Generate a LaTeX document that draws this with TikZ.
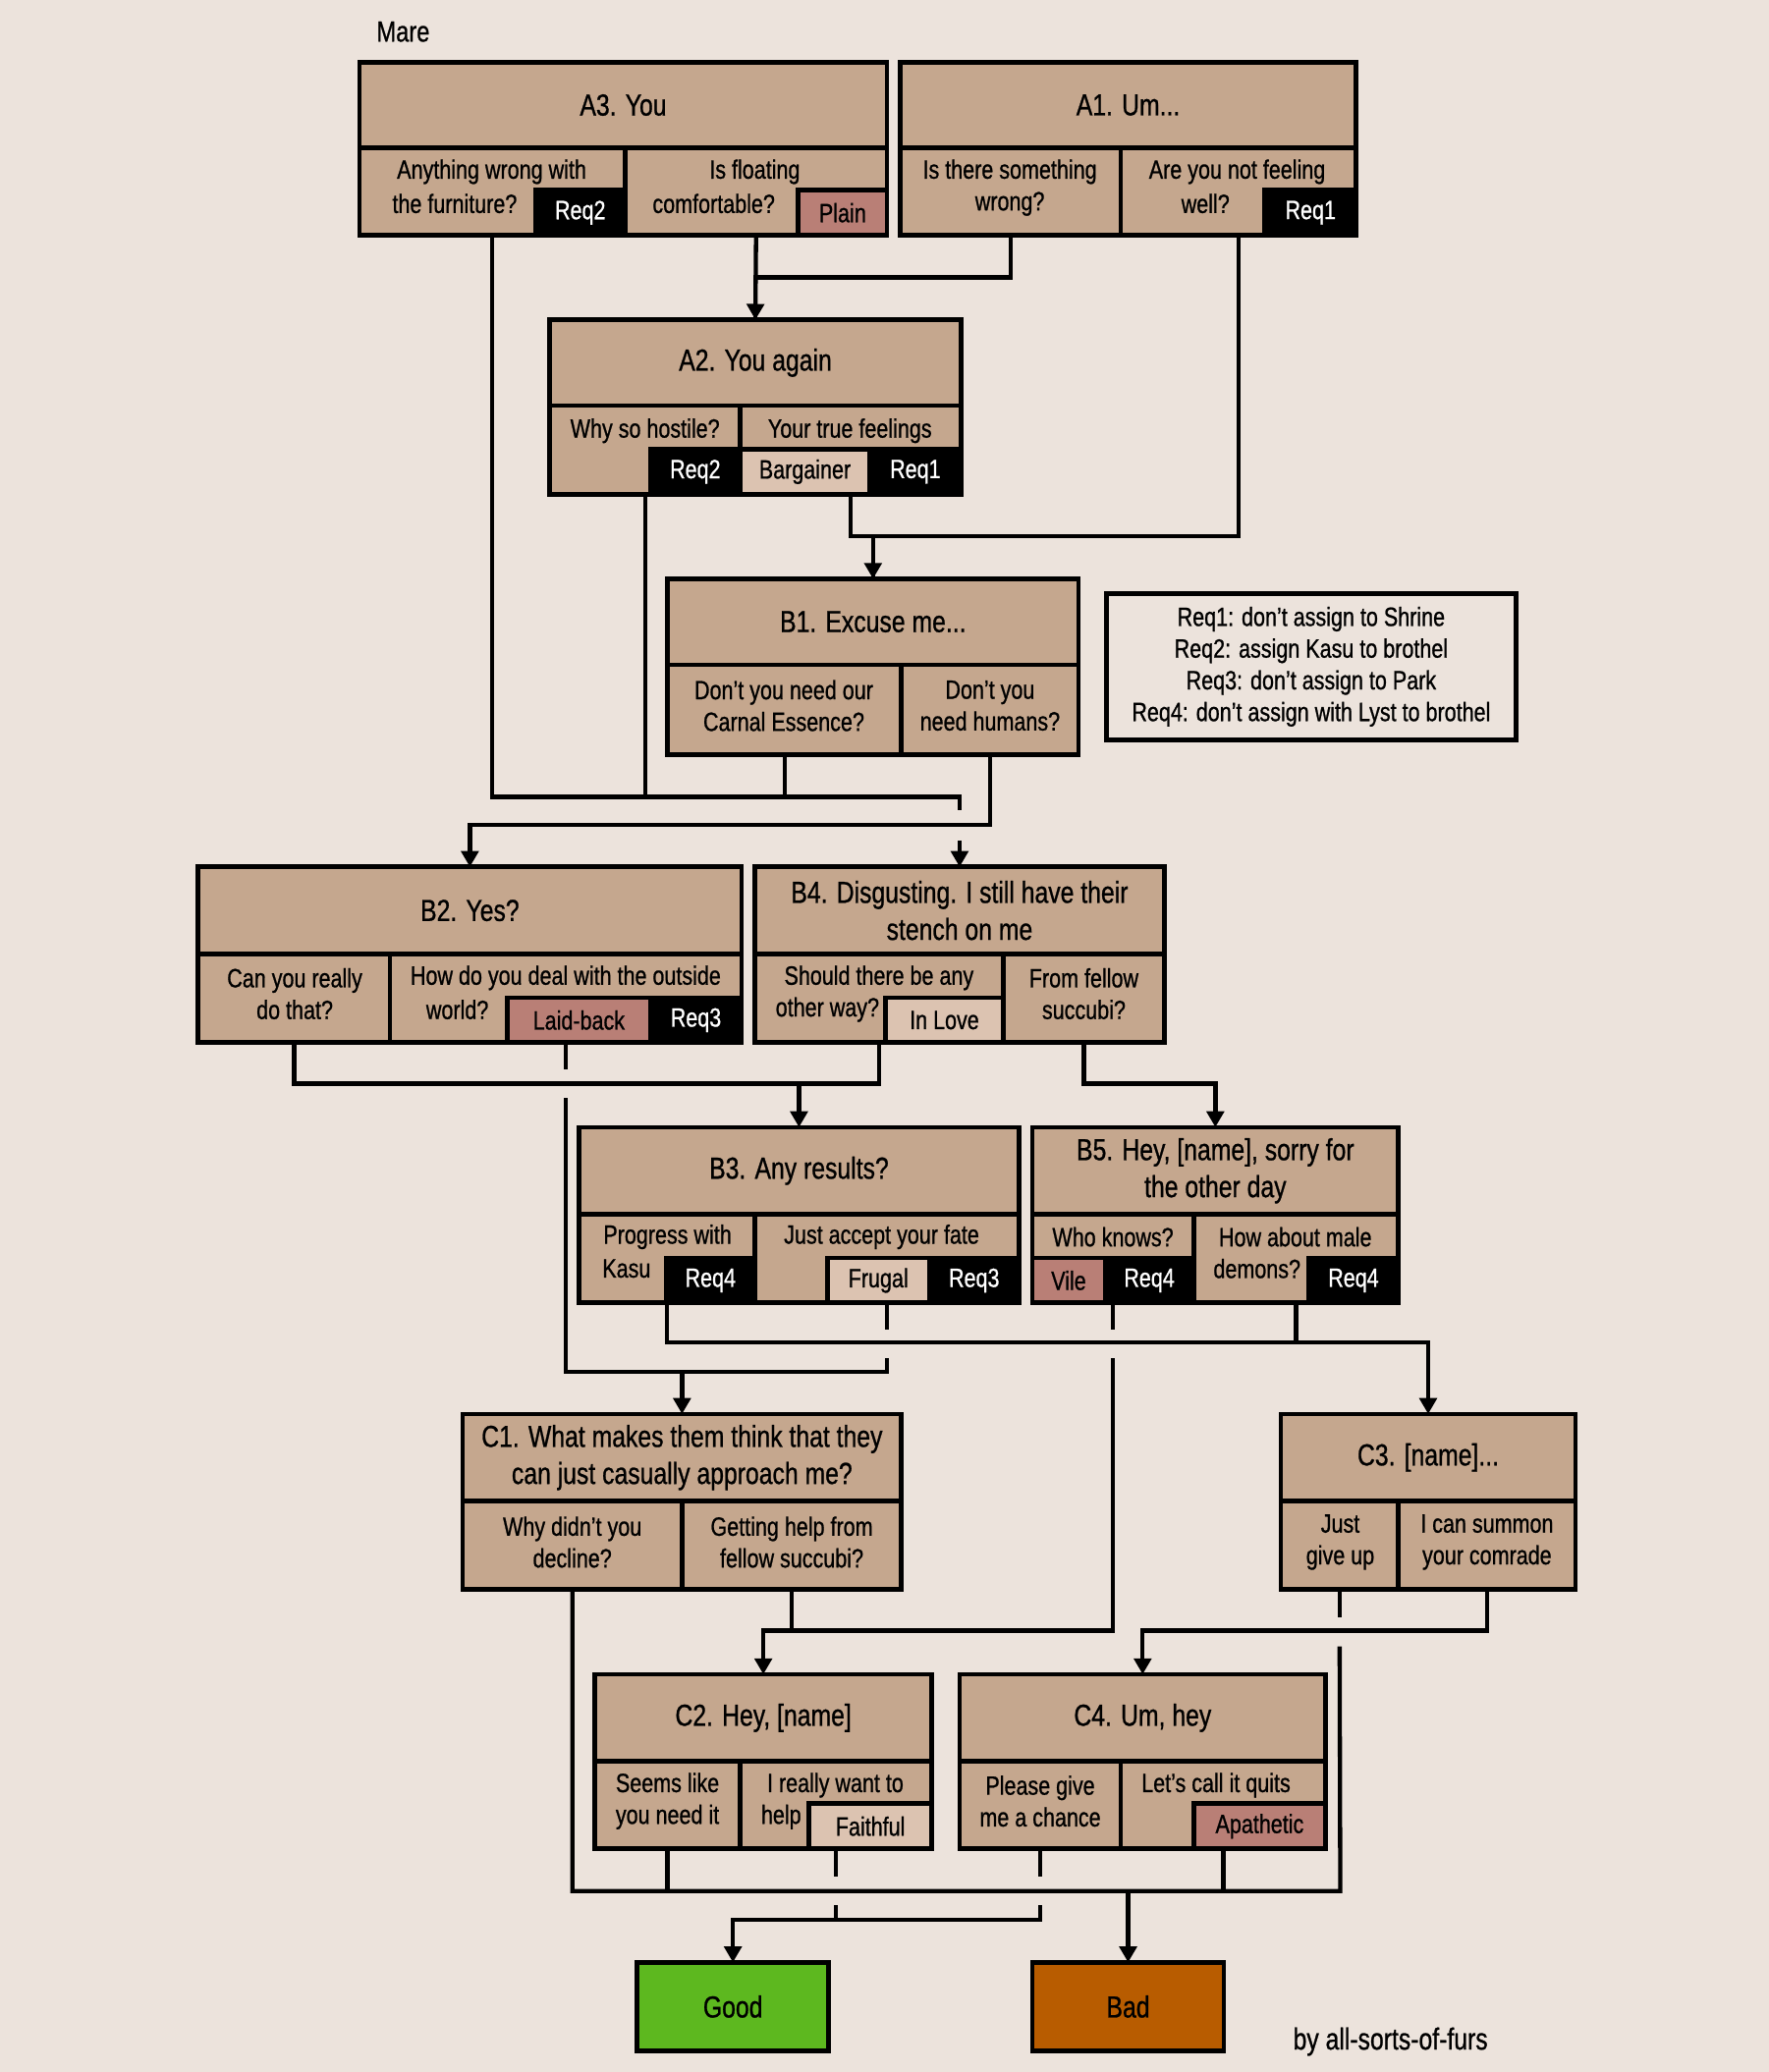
\documentclass[tikz,border=0pt]{standalone}
\usepackage{fontspec}
\setmainfont{Liberation Sans}[FakeStretch=0.8, FakeBold=0.8]
\usetikzlibrary{arrows.meta}
\definecolor{bgc}{HTML}{ECE3DC}
\definecolor{boxc}{HTML}{C5A78E}
\definecolor{tagred}{HTML}{B97F76}
\definecolor{tagpale}{HTML}{DCC3B1}
\definecolor{goodc}{HTML}{5DB81F}
\definecolor{badc}{HTML}{B85C00}

\begin{document}
\begin{tikzpicture}[x=1pt, y=-1pt, >={Triangle[length=12pt,width=13pt]},
    every node/.style={font=\fontsize{20}{24}\selectfont, inner sep=0pt, outer sep=0pt},
    ttl/.style={draw, fill=boxc, line width=3.5pt, anchor=north west, align=center, font=\fontsize{23}{28}\selectfont},
    cell/.style={draw, fill=boxc, line width=3.5pt, anchor=north west},
    txt/.style={align=center},
    reqtag/.style={draw, fill=black, text=white, line width=3.5pt, anchor=south east, minimum height=34pt},
    redtag/.style={draw, fill=tagred, line width=3.5pt, anchor=south east, minimum height=34pt},
    paletag/.style={draw, fill=tagpale, line width=3.5pt, anchor=south east, minimum height=34pt},
    wire/.style={line width=3.2pt}]
    \fill[bgc] (0,0) rectangle (1338,1568);

    \node[font=\fontsize{22}{26}\selectfont] (mare) at (305,24) {Mare};

    % A3
    \node[ttl, minimum width=399pt, minimum height=65pt] (a3) at (272,47) {A3. You};
    \node[cell, minimum width=201pt, minimum height=66pt] (a3x) at (272,112) {};
    \node[cell, minimum width=198pt, minimum height=66pt] (a3y) at (473,112) {};
    \node[reqtag, minimum width=68pt] (a3xr) at (a3x.south east) {Req2};
    \node[redtag, minimum width=67pt] (a3yt) at (a3y.south east) {Plain};
    \node (a3xa) at (372,130) {Anything wrong with};
    \node (a3xb) at (344,154) {the furniture?};
    \node (a3ya) at (571,130) {Is floating};
    \node (a3yb) at (540,154) {comfortable?};

    % A1
    \node[ttl, minimum width=345pt, minimum height=65pt] (a1) at (681,47) {A1. Um...};
    \node[cell, minimum width=167pt, minimum height=66pt] (a1x) at (681,112) {};
    \node[cell, minimum width=178pt, minimum height=66pt] (a1y) at (848,112) {};
    \node[reqtag, minimum width=69pt] (a1yr) at (a1y.south east) {Req1};
    \node[txt] (a1xa) at (764,142) {Is there something\\wrong?};
    \node (a1ya) at (936,130) {Are you not feeling};
    \node (a1yb) at (912,154) {well?};

    % A2
    \node[ttl, minimum width=311pt, minimum height=65pt] (a2) at (416,242) {A2. You again};
    \node[cell, minimum width=144pt, minimum height=67pt] (a2x) at (416,307) {};
    \node[cell, minimum width=167pt, minimum height=67pt] (a2y) at (560,307) {};
    \node[reqtag, minimum width=68pt] (a2xr) at (a2x.south east) {Req2};
    \node[reqtag, minimum width=69pt] (a2yr) at (a2y.south east) {Req1};
    \node[paletag, minimum width=98pt] (a2yt) at (a2yr.south west) {Bargainer};
    \node (a2xa) at (488,326) {Why so hostile?};
    \node (a2ya) at (643,326) {Your true feelings};

    % B1
    \node[ttl, minimum width=311pt, minimum height=65pt] (b1) at (505,438) {B1. Excuse me...};
    \node[cell, minimum width=177pt, minimum height=68pt] (b1x) at (505,503) {};
    \node[cell, minimum width=134pt, minimum height=68pt] (b1y) at (682,503) {};
    \node[txt] (b1xa) at (593,534) {Don't you need our\\Carnal Essence?};
    \node[txt] (b1ya) at (749,534) {Don't you\\need humans?};

    % requirements
    \node[draw, line width=3.5pt, minimum width=310pt, minimum height=111pt, anchor=north west, align=center] (reqs) at (837,449)
        {Req1: don't assign to Shrine\\Req2: assign Kasu to brothel\\Req3: don't assign to Park\\Req4: don't assign with Lyst to brothel};

    % B2
    \node[ttl, minimum width=411pt, minimum height=66pt] (b2) at (150,656) {B2. Yes?};
    \node[cell, minimum width=145pt, minimum height=67pt] (b2x) at (150,722) {};
    \node[cell, minimum width=266pt, minimum height=67pt] (b2y) at (295,722) {};
    \node[reqtag, minimum width=69pt] (b2yr) at (b2y.south east) {Req3};
    \node[redtag, minimum width=108pt] (b2yt) at (b2yr.south west) {Laid-back};
    \node[txt] (b2xa) at (223,752) {Can you really\\do that?};
    \node (b2ya) at (428,740) {How do you deal with the outside};
    \node (b2yb) at (346,764) {world?};

    % B4
    \node[ttl, minimum width=310pt, minimum height=66pt] (b4) at (571,656) {B4. Disgusting. I still have their\\stench on me};
    \node[cell, minimum width=188pt, minimum height=67pt] (b4x) at (571,722) {};
    \node[cell, minimum width=122pt, minimum height=67pt] (b4y) at (759,722) {};
    \node[paletag, minimum width=89pt] (b4xt) at (b4x.south east) {In Love};
    \node (b4xa) at (665,740) {Should there be any};
    \node (b4xb) at (626,764) {other way?};
    \node[txt] (b4ya) at (820,752) {From fellow\\succubi?};

    % B3
    \node[ttl, minimum width=333pt, minimum height=66pt] (b3) at (438,853) {B3. Any results?};
    \node[cell, minimum width=133pt, minimum height=67pt] (b3x) at (438,919) {};
    \node[cell, minimum width=200pt, minimum height=67pt] (b3y) at (571,919) {};
    \node[reqtag, minimum width=67pt] (b3xr) at (b3x.south east) {Req4};
    \node[reqtag, minimum width=68pt] (b3yr) at (b3y.south east) {Req3};
    \node[paletag, minimum width=77pt] (b3yt) at (b3yr.south west) {Frugal};
    \node (b3xa) at (505,936) {Progress with};
    \node (b3xb) at (474,960) {Kasu};
    \node (b3ya) at (667,936) {Just accept your fate};

    % B5
    \node[ttl, minimum width=277pt, minimum height=66pt] (b5) at (781,853) {B5. Hey, [name], sorry for\\the other day};
    \node[cell, minimum width=122pt, minimum height=67pt] (b5x) at (781,919) {};
    \node[cell, minimum width=155pt, minimum height=67pt] (b5y) at (903,919) {};
    \node[reqtag, minimum width=67pt] (b5xr) at (b5x.south east) {Req4};
    \node[redtag, minimum width=55pt] (b5xt) at (b5xr.south west) {Vile};
    \node[reqtag, minimum width=68pt] (b5yr) at (b5y.south east) {Req4};
    \node (b5xa) at (842,936) {Who knows?};
    \node (b5ya) at (980,936) {How about male};
    \node (b5yb) at (951,960) {demons?};

    % C1
    \node[ttl, minimum width=332pt, minimum height=66pt] (c1) at (350,1070) {C1. What makes them think that they\\can just casually approach me?};
    \node[cell, minimum width=166pt, minimum height=67pt] (c1x) at (350,1136) {};
    \node[cell, minimum width=166pt, minimum height=67pt] (c1y) at (516,1136) {};
    \node[txt] (c1xa) at (433,1167) {Why didn't you\\decline?};
    \node[txt] (c1ya) at (599,1167) {Getting help from\\fellow succubi?};

    % C3
    \node[ttl, minimum width=223pt, minimum height=66pt] (c3) at (969,1070) {C3. [name]...};
    \node[cell, minimum width=89pt, minimum height=67pt] (c3x) at (969,1136) {};
    \node[cell, minimum width=134pt, minimum height=67pt] (c3y) at (1058,1136) {};
    \node[txt] (c3xa) at (1014,1167) {Just\\give up};
    \node[txt] (c3ya) at (1125,1167) {I can summon\\your comrade};

    % C2
    \node[ttl, minimum width=255pt, minimum height=66pt] (c2) at (450,1267) {C2. Hey, [name]};
    \node[cell, minimum width=110pt, minimum height=66pt] (c2x) at (450,1333) {};
    \node[cell, minimum width=145pt, minimum height=66pt] (c2y) at (560,1333) {};
    \node[paletag, minimum width=93pt] (c2yt) at (c2y.south east) {Faithful};
    \node[txt] (c2xa) at (505,1363) {Seems like\\you need it};
    \node (c2ya) at (632,1351) {I really want to};
    \node (c2yb) at (591,1375) {help};

    % C4
    \node[ttl, minimum width=277pt, minimum height=66pt] (c4) at (726,1267) {C4. Um, hey};
    \node[cell, minimum width=122pt, minimum height=66pt] (c4x) at (726,1333) {};
    \node[cell, minimum width=155pt, minimum height=66pt] (c4y) at (848,1333) {};
    \node[redtag, minimum width=100pt] (c4yt) at (c4y.south east) {Apathetic};
    \node[txt] (c4xa) at (787,1363) {Please give\\me a chance};
    \node (c4ya) at (920,1351) {Let's call it quits};

    % endings
    \node[ttl, fill=goodc, minimum width=145pt, minimum height=67pt] (good) at (482,1485) {Good};
    \node[ttl, fill=badc, minimum width=145pt, minimum height=67pt] (bad) at (781,1485) {Bad};
    \node[font=\fontsize{23}{26}\selectfont] (sign) at (1052,1545) {by all-sorts-of-furs};

    % connectors
    \draw[wire, ->] (a3y.south) -- (a2.north);
    \draw[wire] (a1x.south) -- ++(0,32) -| (a2.north);
    \draw[wire, ->] (a1y.south) -- ++(0,228) -| (b1.north);
    \draw[wire] (a2y.south) -- ++(0,32) -| (b1.north);

    \coordinate (j1) at (726,603);
    \draw[wire] (a3x.south) |- (j1) -- ++(0,10);
    \draw[wire] (a2x.south) -- (a2x.south |- j1);
    \draw[wire] (b1x.south) -- (b1x.south |- j1);
    \draw[wire, ->] ([yshift=20pt]b4.north) -- (b4.north);
    \draw[wire, ->] (b1y.south) -- ++(0,53) -| (b2.north);

    \draw[wire] (b2x.south) -- ++(0,31) -| (b4x.south);
    \draw[wire, ->] ([yshift=33pt]b3.north) -- (b3.north);
    \draw[wire, ->] (b4y.south) -- ++(0,31) -| (b5.north);

    \coordinate (j2) at (671,1038);
    \draw[wire] (b2y.south) -- ++(0,20);
    \draw[wire] ([yshift=-42pt]b2y.south) |- (j2) -- ([yshift=-42pt]b3y.south);
    \draw[wire] (b3y.south) -- ++(0,20);
    \draw[wire, ->] (c1.north |- j2) -- (c1.north);

    \draw[wire, ->] (b3x.south) -- ++(0,30) -| (c3.north);
    \draw[wire] (b5y.south) -- ++(0,30);

    \draw[wire] (b5x.south) -- ++(0,20);
    \draw[wire, ->] ([yshift=-42pt]b5x.south) |- ([yshift=33pt]c2.north) -- (c2.north);
    \draw[wire] (c1y.south) -- ++(0,31);
    \draw[wire, ->] (c3y.south) -- ++(0,31) -| (c4.north);

    \coordinate (j3) at (1014,1431);
    \draw[wire] (c3x.south) -- ++(0,21);
    \draw[wire] ([yshift=-43pt]c3x.south) -- (j3) -| (c1x.south);
    \draw[wire] (c2x.south) -- (c2x.south |- j3);
    \draw[wire] (c4y.south) -- (c4y.south |- j3);
    \draw[wire, ->] (bad.north |- j3) -- (bad.north);

    \draw[wire] (c2y.south) -- ++(0,21);
    \draw[wire] (c4x.south) -- ++(0,21);
    \draw[wire] ([yshift=-43pt]c2y.south) -- ++(0,11);
    \draw[wire, ->] ([yshift=-43pt]c4x.south) -- ++(0,11) -| (good.north);
\end{tikzpicture}
\end{document}
